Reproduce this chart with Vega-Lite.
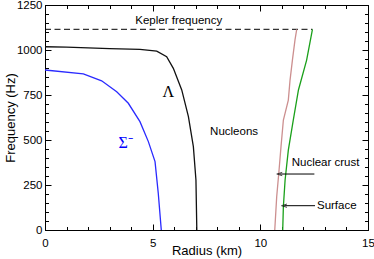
{
  "$schema": "https://vega.github.io/schema/vega-lite/v6.json",
  "width": 323,
  "height": 225,
  "autosize": {"type": "none"},
  "padding": {"left": 45, "top": 5, "right": 6, "bottom": 29},
  "config": {
    "view": {"stroke": "black", "strokeWidth": 1},
    "axis": {
      "domain": false,
      "grid": false,
      "labelFont": "Liberation Sans",
      "labelFontSize": 11.5,
      "labelColor": "black",
      "tickColor": "black",
      "tickWidth": 1,
      "titleFont": "Liberation Sans",
      "titleFontSize": 13,
      "titleFontWeight": "normal",
      "titleColor": "black",
      "labelFlush": false,
      "labelOverlap": false,
      "format": "d"
    }
  },
  "datasets": {
    "curves": [
      {"series": "Lambda", "i": 0, "x": 0, "y": 1018},
      {"series": "Lambda", "i": 1, "x": 1, "y": 1016},
      {"series": "Lambda", "i": 2, "x": 2, "y": 1012},
      {"series": "Lambda", "i": 3, "x": 3, "y": 1008},
      {"series": "Lambda", "i": 4, "x": 4.41, "y": 1003},
      {"series": "Lambda", "i": 5, "x": 5.19, "y": 994},
      {"series": "Lambda", "i": 6, "x": 5.65, "y": 963},
      {"series": "Lambda", "i": 7, "x": 5.96, "y": 898},
      {"series": "Lambda", "i": 8, "x": 6.35, "y": 778},
      {"series": "Lambda", "i": 9, "x": 6.66, "y": 630},
      {"series": "Lambda", "i": 10, "x": 6.89, "y": 463},
      {"series": "Lambda", "i": 11, "x": 7.01, "y": 278},
      {"series": "Lambda", "i": 12, "x": 7.05, "y": 0},
      {"series": "Sigma", "i": 0, "x": 0, "y": 889},
      {"series": "Sigma", "i": 1, "x": 1.78, "y": 867},
      {"series": "Sigma", "i": 2, "x": 2.63, "y": 829},
      {"series": "Sigma", "i": 3, "x": 3.33, "y": 768},
      {"series": "Sigma", "i": 4, "x": 3.87, "y": 704},
      {"series": "Sigma", "i": 5, "x": 4.41, "y": 602},
      {"series": "Sigma", "i": 6, "x": 4.8, "y": 491},
      {"series": "Sigma", "i": 7, "x": 5.11, "y": 380},
      {"series": "Sigma", "i": 8, "x": 5.26, "y": 204},
      {"series": "Sigma", "i": 9, "x": 5.4, "y": 0},
      {"series": "Crust", "i": 0, "x": 11.69, "y": 1115},
      {"series": "Crust", "i": 1, "x": 11.61, "y": 1056},
      {"series": "Crust", "i": 2, "x": 11.49, "y": 944},
      {"series": "Crust", "i": 3, "x": 11.38, "y": 833},
      {"series": "Crust", "i": 4, "x": 11.3, "y": 722},
      {"series": "Crust", "i": 5, "x": 11.07, "y": 611},
      {"series": "Crust", "i": 6, "x": 10.96, "y": 463},
      {"series": "Crust", "i": 7, "x": 10.87, "y": 333},
      {"series": "Crust", "i": 8, "x": 10.76, "y": 185},
      {"series": "Crust", "i": 9, "x": 10.67, "y": 0},
      {"series": "Surface", "i": 0, "x": 12.42, "y": 1115},
      {"series": "Surface", "i": 1, "x": 12.15, "y": 944},
      {"series": "Surface", "i": 2, "x": 11.77, "y": 778},
      {"series": "Surface", "i": 3, "x": 11.53, "y": 611},
      {"series": "Surface", "i": 4, "x": 11.3, "y": 444},
      {"series": "Surface", "i": 5, "x": 11.15, "y": 278},
      {"series": "Surface", "i": 6, "x": 11.07, "y": 130},
      {"series": "Surface", "i": 7, "x": 11.04, "y": 0}
    ],
    "kepler": [
      {"x": 0, "y": 1115},
      {"x": 12.42, "y": 1115}
    ],
    "labels": [
      {"label": "Kepler frequency", "x": 6.21, "y": 1163},
      {"label": "Nucleons", "x": 8.78, "y": 546},
      {"label": "Nuclear crust", "x": 13.03, "y": 370},
      {"label": "Surface", "x": 13.55, "y": 133}
    ],
    "greek": [
      {"label": "Λ", "x": 5.73, "y": 768, "c": "black"},
      {"label": "Σ⁻", "x": 3.75, "y": 483, "c": "blue"}
    ],
    "arrows": [
      {"x1": 12.51, "x2": 10.89, "y": 311},
      {"x1": 12.54, "x2": 11.11, "y": 135}
    ]
  },
  "resolve": {"axis": {"x": "independent", "y": "independent"}},
  "layer": [
    {
      "data": {"name": "kepler"},
      "mark": {"type": "line", "color": "black", "strokeWidth": 1, "strokeDash": [6, 3.5]},
      "encoding": {
        "x": {"field": "x", "type": "quantitative",
              "scale": {"domain": [0, 15], "nice": false, "zero": false},
              "axis": {"orient": "bottom", "values": [0, 5, 10, 15], "offset": -6, "tickSize": 6, "labelPadding": 7, "title": "Radius (km)", "titlePadding": -4}},
        "y": {"field": "y", "type": "quantitative",
              "scale": {"domain": [0, 1250], "nice": false, "zero": false},
              "axis": {"orient": "left", "values": [0, 250, 500, 750, 1000, 1250], "offset": -6, "tickSize": 6, "labelPadding": 3, "title": "Frequency (Hz)", "titlePadding": -1}}
      }
    },
    {
      "data": {"name": "curves"},
      "mark": {"type": "line", "strokeWidth": 1.3},
      "encoding": {
        "x": {"field": "x", "type": "quantitative",
              "axis": {"orient": "bottom", "values": [0,1,2,3,4,5,6,7,8,9,10,11,12,13,14,15], "offset": -3.5, "tickSize": 3.5, "labels": false, "title": null}},
        "y": {"field": "y", "type": "quantitative",
              "axis": {"orient": "left", "values": [0,50,100,150,200,250,300,350,400,450,500,550,600,650,700,750,800,850,900,950,1000,1050,1100,1150,1200,1250], "offset": -3.5, "tickSize": 3.5, "labels": false, "title": null}},
        "color": {"field": "series", "type": "nominal",
                  "scale": {"domain": ["Lambda", "Sigma", "Crust", "Surface"], "range": ["#111111", "#2a2aff", "#cc8f8f", "#1aa01a"]},
                  "legend": null},
        "detail": {"field": "series"},
        "order": {"field": "i", "type": "quantitative"}
      }
    },
    {
      "data": {"name": "labels"},
      "mark": {"type": "text", "font": "Liberation Sans", "fontSize": 11.5, "color": "black", "align": "center", "baseline": "middle"},
      "encoding": {
        "x": {"field": "x", "type": "quantitative",
              "axis": {"orient": "top", "values": [0, 5, 10, 15], "offset": -6, "tickSize": 6, "labels": false, "title": null}},
        "y": {"field": "y", "type": "quantitative",
              "axis": {"orient": "right", "values": [0, 250, 500, 750, 1000, 1250], "offset": -6, "tickSize": 6, "labels": false, "title": null}},
        "text": {"field": "label"}
      }
    },
    {
      "data": {"name": "arrows"},
      "mark": {"type": "rule", "color": "black", "strokeWidth": 1},
      "encoding": {
        "x": {"field": "x1", "type": "quantitative",
              "axis": {"orient": "top", "values": [0,1,2,3,4,5,6,7,8,9,10,11,12,13,14,15], "offset": -3.5, "tickSize": 3.5, "labels": false, "title": null}},
        "x2": {"field": "x2"},
        "y": {"field": "y", "type": "quantitative",
              "axis": {"orient": "right", "values": [0,50,100,150,200,250,300,350,400,450,500,550,600,650,700,750,800,850,900,950,1000,1050,1100,1150,1200,1250], "offset": -3.5, "tickSize": 3.5, "labels": false, "title": null}}
      }
    },
    {
      "data": {"name": "arrows"},
      "mark": {"type": "point", "shape": "M1,-0.6L-1,0L1,0.6", "filled": false, "stroke": "black", "strokeWidth": 1, "size": 30},
      "encoding": {
        "x": {"field": "x2", "type": "quantitative", "axis": null},
        "y": {"field": "y", "type": "quantitative", "axis": null}
      }
    },
    {
      "data": {"name": "greek"},
      "mark": {"type": "text", "font": "Liberation Serif", "fontSize": 16, "align": "center", "baseline": "middle"},
      "encoding": {
        "x": {"field": "x", "type": "quantitative", "axis": null},
        "y": {"field": "y", "type": "quantitative", "axis": null},
        "text": {"field": "label"},
        "color": {"field": "c", "type": "nominal", "scale": null}
      }
    }
  ]
}
